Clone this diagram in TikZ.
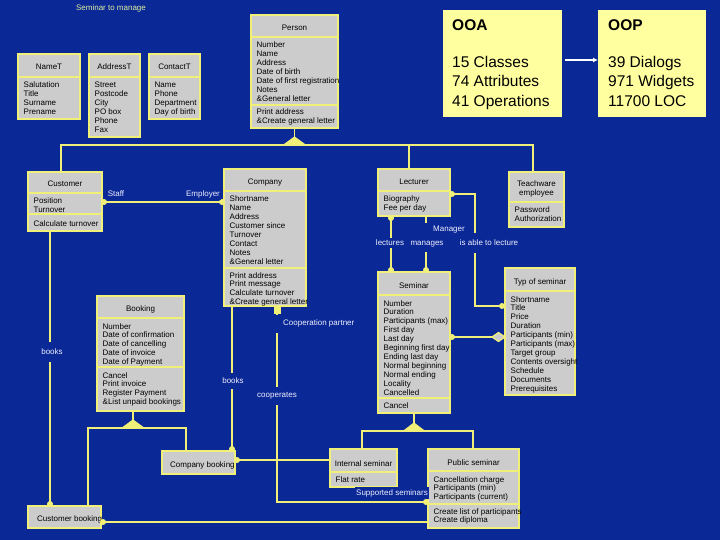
\documentclass[tikz,border=0pt]{standalone}
\usepackage{fontspec}
\setmainfont{Liberation Sans}
\usetikzlibrary{arrows.meta}
\definecolor{bg}{RGB}{10,40,150}
\definecolor{boxgray}{RGB}{204,204,204}
\definecolor{yl}{RGB}{240,240,120}
\definecolor{ooafill}{RGB}{255,255,160}
\definecolor{lbl}{RGB}{240,240,255}
\definecolor{ttl}{RGB}{225,240,160}
\tikzset{
 clsbox/.style={draw=yl, fill=boxgray, line width=1.8pt, inner sep=0pt, outer sep=0pt},
 sepline/.style={draw=yl, line width=1.8pt},
 txt/.style={font=\fontsize{8}{8.9}\selectfont, inner sep=0pt, anchor=base west, text=black},
 ttxt/.style={font=\fontsize{8}{8.9}\selectfont, inner sep=0pt, anchor=base, text=black},
 conn/.style={draw=yl, line width=1.5pt},
 dot/.style={fill=yl},
 lab/.style={font=\fontsize{8}{8.9}\selectfont, text=lbl, fill=bg, inner xsep=1pt, inner ysep=2pt},
 gen/.style={draw=yl, fill=yl, line width=1pt, line join=round},
 bigbox/.style={fill=ooafill, inner sep=0pt, outer sep=0pt},
 bigtxt/.style={font=\fontsize{15.5}{19.5}\selectfont, inner sep=0pt, anchor=base west, text=black},
}
\newcommand\umlbox[5]{\node[clsbox, minimum width={#4-#2}, minimum height={#5-#3}] (#1) at ({(#2+#4)/2},{(#3+#5)/2}) {};}
\newcommand\cpt[2]{\draw[sepline] (#1.west |- 0,#2) -- (#1.east |- 0,#2);}
\newcommand\lns[1]{\begin{tabular}[t]{@{}l@{}}#1\end{tabular}}
\newcommand\clns[1]{\begin{tabular}[t]{@{}c@{}}#1\end{tabular}}
\begin{document}
\begin{tikzpicture}[x=1pt,y=-1pt]
\fill[bg] (0,0) rectangle (720,540);
\useasboundingbox (0,0) rectangle (720,540);

\node[font=\fontsize{8}{8.9}\selectfont, text=ttl, anchor=base] (title) at (111,11) {Seminar to manage};

\coordinate (pA) at (294.5,137);
\coordinate (bA) at (133,420);
\coordinate (sA) at (414,423);
\coordinate (bend1) at (475,306);

% ---------- classes ----------
\umlbox{NameT}{18}{54}{80}{119}
\cpt{NameT}{77}
\node[ttxt] (nameTt) at (49,70) {NameT};
\node[txt] (nameTa) at (23.5,88) {\lns{Salutation\\Title\\Surname\\Prename}};

\umlbox{AddressT}{89}{54}{140}{137}
\cpt{AddressT}{77}
\node[ttxt] (addrTt) at (114.5,70) {AddressT};
\node[txt] (addrTa) at (94.5,88) {\lns{Street\\Postcode\\City\\PO box\\Phone\\Fax}};

\umlbox{ContactT}{149}{54}{200}{119}
\cpt{ContactT}{77}
\node[ttxt] (contTt) at (174.5,70) {ContactT};
\node[txt] (contTa) at (154.5,88) {\lns{Name\\Phone\\Department\\Day of birth}};

\umlbox{Person}{251}{15}{338}{128}
\cpt{Person}{37}\cpt{Person}{105}
\node[ttxt] (persT) at (294.5,31) {Person};
\node[txt] (persA) at (256.5,48) {\lns{Number\\Name\\Address\\Date of birth\\Date of first registration\\Notes\\\&General letter}};
\node[txt] (persO) at (256.5,115) {\lns{Print address\\\&Create general letter}};

\umlbox{Customer}{28}{172}{102}{231}
\cpt{Customer}{193}\cpt{Customer}{214}
\node[ttxt] (custT) at (65,187) {Customer};
\node[txt] (custA) at (33.5,204) {\lns{Position\\Turnover}};
\node[txt] (custO) at (33.5,226) {Calculate turnover};

\umlbox{Company}{224}{169}{306}{306}
\cpt{Company}{191}\cpt{Company}{268}
\node[ttxt] (compT) at (265,185) {Company};
\node[txt] (compA) at (229.5,202) {\lns{Shortname\\Name\\Address\\Customer since\\Turnover\\Contact\\Notes\\\&General letter}};
\node[txt] (compO) at (229.5,278) {\lns{Print address\\Print message\\Calculate turnover\\\&Create general letter}};

\umlbox{Lecturer}{378}{169}{450}{216}
\cpt{Lecturer}{191}
\node[ttxt] (lectT) at (414,185) {Lecturer};
\node[txt] (lectA) at (383.5,202) {\lns{Biography\\Fee per day}};

\umlbox{Teachware}{509}{172}{564}{227}
\cpt{Teachware}{202}
\node[ttxt] (teachT) at (536.5,187) {\clns{Teachware\\employee}};
\node[txt] (teachA) at (514.5,213) {\lns{Password\\Authorization}};

\umlbox{Booking}{97}{296}{184}{411}
\cpt{Booking}{318}\cpt{Booking}{367}
\node[ttxt] (bookT) at (140.5,311) {Booking};
\node[txt] (bookA) at (102.5,329) {\lns{Number\\Date of confirmation\\Date of cancelling\\Date of invoice\\Date of Payment}};
\node[txt] (bookO) at (102.5,378) {\lns{Cancel\\Print invoice\\Register Payment\\\&List unpaid bookings}};

\umlbox{Seminar}{378}{272}{450}{413}
\cpt{Seminar}{295}\cpt{Seminar}{398}
\node[ttxt] (semT) at (414,288) {Seminar};
\node[txt] (semA) at (383.5,306) {\lns{Number\\Duration\\Participants (max)\\First day\\Last day\\Beginning first day\\Ending last day\\Normal beginning\\Normal ending\\Locality\\Cancelled}};
\node[txt] (semO) at (383.5,408) {Cancel};

\umlbox{TypSem}{505}{268}{575}{395}
\cpt{TypSem}{291}
\node[ttxt] (typT) at (540,284) {Typ of seminar};
\node[txt] (typA) at (510.5,302) {\lns{Shortname\\Title\\Price\\Duration\\Participants (min)\\Participants (max)\\Target group\\Contents oversight\\Schedule\\Documents\\Prerequisites}};

\umlbox{Internal}{330}{449}{397}{487}
\cpt{Internal}{472}
\node[ttxt] (intT) at (363.5,466) {Internal seminar};
\node[txt] (intA) at (335.5,482) {Flat rate};

\umlbox{Public}{428}{449}{519}{528}
\cpt{Public}{471}\cpt{Public}{504}
\node[ttxt] (pubT) at (473.5,465) {Public seminar};
\node[txt] (pubA) at (433.5,482) {\lns{Cancellation charge\\Participants (min)\\Participants (current)}};
\node[txt] (pubO) at (433.5,514) {\lns{Create list of participants\\Create diploma}};

\umlbox{CustBooking}{28}{506}{101}{528}
\node[txt] (cbT) at (37,521) {Customer booking};

\umlbox{CompBooking}{162}{451}{235}{474}
\node[txt] (cpbT) at (170,467) {Company booking};

% ---------- generalizations ----------
\draw[conn] (Person.south) -- (pA);
\filldraw[gen] (pA) -- ++(-11,8) -- ++(22,0) -- cycle;
\draw[conn] ([xshift=-4pt]Customer.north) -- ++(0,-27) -| ([xshift=-3.5pt]Teachware.north);
\draw[conn] ([xshift=-5pt]Lecturer.north) -- ++(0,-24);

\draw[conn] (Booking.south -| bA) -- (bA);
\filldraw[gen] (bA) -- ++(-11,8) -- ++(22,0) -- cycle;
\draw[conn] ([xshift=23.5pt]CustBooking.north) -- ++(0,-78) -| ([xshift=-12.5pt]CompBooking.north);

\draw[conn] (Seminar.south) -- (sA);
\filldraw[gen] (sA) -- ++(-10.5,8) -- ++(21,0) -- cycle;
\draw[conn] ([xshift=-1.5pt]Internal.north) -- ++(0,-18) -| ([xshift=-0.5pt]Public.north);

% ---------- associations ----------
\draw[conn] (Customer.east |- 0,202) -- (Company.west |- 0,202);
\fill[dot] (104,202) circle (3pt);
\fill[dot] (222,202) circle (3pt);
\node[lab] (lStaff) at (116,194) {Staff};
\node[lab] (lEmp) at (203,194) {Employer};

\draw[conn] (Customer.south -| 50,0) -- (CustBooking.north -| 50,0);
\fill[dot] (50,504) circle (3pt);
\node[lab, minimum height=20pt] (lbooks1) at (52,352) {books};

\draw[conn] (Company.south -| 232,0) -- (CompBooking.north -| 232,0);
\fill[dot] (232,449) circle (3pt);
\node[lab, minimum height=16pt] (lbooks2) at (233,381) {books};

\draw[conn] (Company.south -| 277,0) |- (Public.west |- 0,502);
\fill[dot] (273.5,306) rectangle (280.5,313.5);
\fill[dot] (426,502) circle (3pt);
\node[lab, anchor=west, minimum height=18pt, inner xsep=0pt] (lcoop) at (272,323.5) {\hspace{11pt}Cooperation partner};
\node[lab, minimum height=18pt] (lcoops) at (277,396) {cooperates};
\node[lab] (lsupp) at (392,493) {Supported seminars};

\draw[conn] (CompBooking.east |- 0,460) -- (Internal.west |- 0,460);
\fill[dot] (237,460) circle (3pt);

\draw[conn] (CustBooking.east |- 0,522) -- (Public.west |- 0,522);
\fill[dot] (103,522) circle (3pt);

\draw[conn] (Lecturer.south -| 391,0) -- (Seminar.north -| 391,0);
\fill[dot] (391,218) circle (3pt);
\fill[dot] (391,270) circle (3pt);
\node[lab] (llect) at (390,243) {lectures};

\draw[conn] (Lecturer.south -| 426,0) -- (Seminar.north -| 426,0);
\fill[dot] (426,270) circle (3pt);
\node[lab, anchor=west, minimum height=14pt, inner xsep=0pt] (lmgr) at (421,230) {\hspace{12pt}Manager};
\node[lab, minimum height=16pt] (lmanages) at (427,244) {manages};

\draw[conn] (Lecturer.east |- 0,194) -| (bend1) -- (TypSem.west |- bend1);
\fill[dot] (452,194) circle (3pt);
\fill[dot] (502,306) circle (3pt);
\node[lab, minimum height=20pt] (lable) at (489,243) {is able to lecture};

\draw[conn] (Seminar.east |- 0,337) -- (TypSem.west |- 0,337);
\fill[dot] (452,337) circle (3pt);
\filldraw[draw=yl, fill=boxgray, line width=1.2pt] (505,337) -- (498.5,332.5) -- (492,337) -- (498.5,341.5) -- cycle;

% ---------- OOA / OOP ----------
\node[bigbox, minimum width=119pt, minimum height=107pt] (OOA) at (502.5,63.5) {};
\node[bigtxt] (ooaT) at (452,30.5) {\textbf{OOA}};
\node[bigtxt] (ooaA) at (452,67.5) {\lns{15 Classes\\74 Attributes\\41 Operations}};
\node[bigbox, minimum width=108pt, minimum height=107pt] (OOP) at (652,63.5) {};
\node[bigtxt] (oopT) at (608,30.5) {\textbf{OOP}};
\node[bigtxt] (oopA) at (608,67.5) {\lns{39 Dialogs\\971 Widgets\\11700 LOC}};
\draw[white, line width=1.3pt, -{Latex[length=5pt,width=5pt]}, shorten <=3pt] (OOA.east |- 0,60) -- (OOP.west |- 0,60);
\end{tikzpicture}
\end{document}
